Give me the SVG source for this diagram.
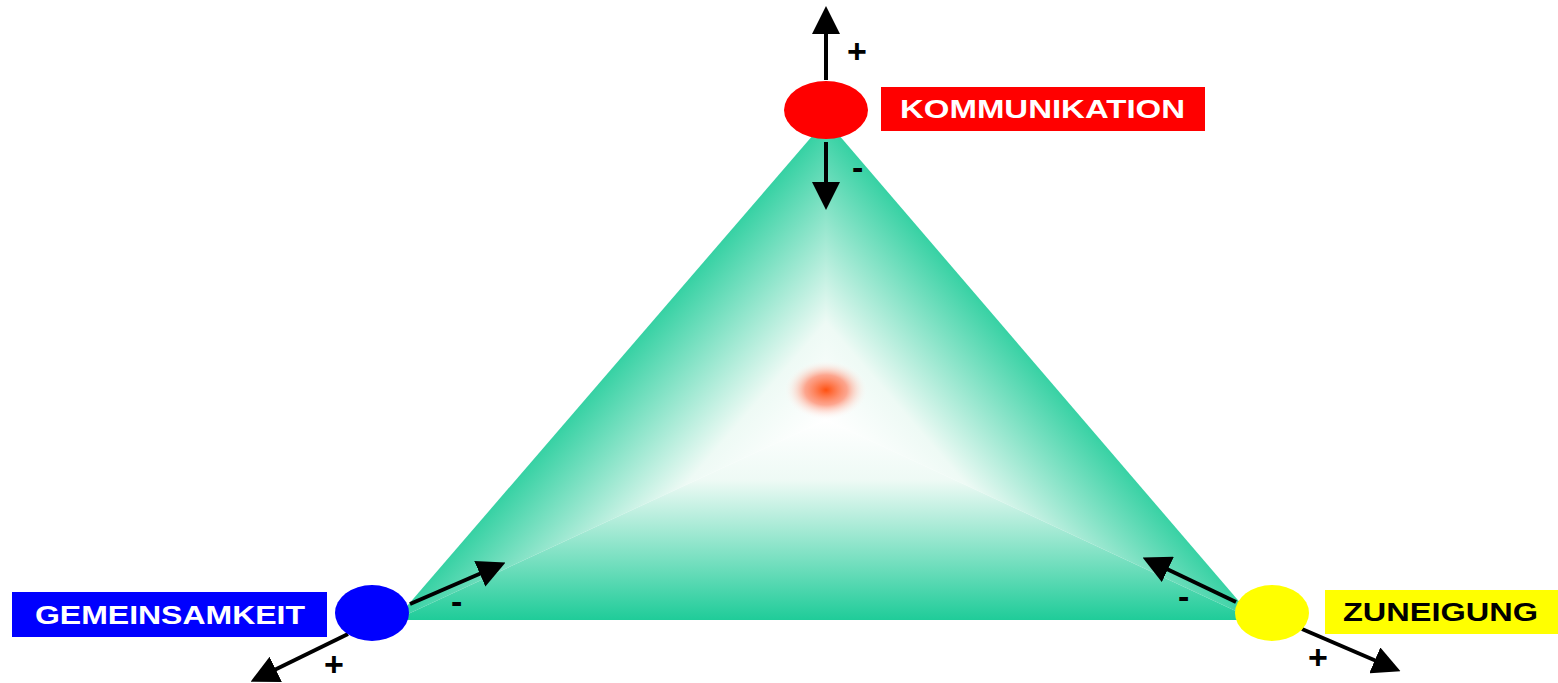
<svg xmlns="http://www.w3.org/2000/svg" width="1558" height="683" viewBox="0 0 1558 683">
<style>
.lbl{font-family:"Liberation Sans",Arial,sans-serif;font-weight:bold;font-size:25px}
.sign{font-family:"Liberation Sans",Arial,sans-serif;font-weight:bold;font-size:34px;fill:#000}
.conn{stroke:#000;stroke-width:4;fill:none;marker-end:url(#ah)}
</style>
<defs>
<marker id="ah" markerWidth="28" markerHeight="28" refX="22" refY="14" orient="auto" markerUnits="userSpaceOnUse" viewBox="0 0 28 28">
<path d="M0,0 L28,14 L0,28 z" fill="#000"/>
</marker>
<linearGradient id="gL" gradientUnits="userSpaceOnUse" x1="826" y1="420" x2="665" y2="281">
<stop offset="0" stop-color="#fff"/><stop offset="0.3" stop-color="#eefaf5"/><stop offset="1" stop-color="#1fcc99"/>
</linearGradient>
<linearGradient id="gR" gradientUnits="userSpaceOnUse" x1="826" y1="420" x2="987" y2="281">
<stop offset="0" stop-color="#fff"/><stop offset="0.3" stop-color="#eefaf5"/><stop offset="1" stop-color="#1fcc99"/>
</linearGradient>
<linearGradient id="gB" gradientUnits="userSpaceOnUse" x1="826" y1="420" x2="826" y2="620">
<stop offset="0" stop-color="#fff"/><stop offset="0.3" stop-color="#eefaf5"/><stop offset="1" stop-color="#1fcc99"/>
</linearGradient>
<radialGradient id="dot">
<stop offset="0" stop-color="#ff5010"/><stop offset="0.5" stop-color="#ff8060" stop-opacity="0.7"/><stop offset="1" stop-color="#fff" stop-opacity="0"/>
</radialGradient>
</defs>
<rect width="1558" height="683" fill="#fff"/>
<g id="triangle">
<polygon points="826,420 826,120 395,620" fill="url(#gL)"/>
<polygon points="826,420 826,120 1255,620" fill="url(#gR)"/>
<polygon points="826,420 395,620 1255,620" fill="url(#gB)"/>
<ellipse cx="826" cy="390" rx="42" ry="30" fill="url(#dot)"/>
</g>
<g id="connectors">
<line class="conn" x1="826" y1="80" x2="826" y2="12"/>
<line class="conn" x1="826" y1="142" x2="826" y2="204"/>
<line class="conn" x1="410" y1="604" x2="500" y2="565"/>
<line class="conn" x1="348" y1="634" x2="256" y2="679"/>
<line class="conn" x1="1236" y1="602" x2="1148" y2="560"/>
<line class="conn" x1="1302" y1="629" x2="1395" y2="669"/>
<text class="sign" x="847" y="63">+</text>
<text class="sign" x="852" y="179">-</text>
<text class="sign" x="451" y="613">-</text>
<text class="sign" x="324" y="676">+</text>
<text class="sign" x="1178" y="608">-</text>
<text class="sign" x="1308" y="669">+</text>
</g>
<g id="kommunikation">
<ellipse cx="826" cy="110" rx="42" ry="29" fill="#ff0000"/>
<rect x="881" y="87" width="324" height="44" fill="#ff0000"/>
<text class="lbl" x="900" y="118" fill="#fff" textLength="285" lengthAdjust="spacingAndGlyphs">KOMMUNIKATION</text>
</g>
<g id="gemeinsamkeit">
<ellipse cx="372" cy="613" rx="37" ry="28" fill="#0000ff"/>
<rect x="12" y="592" width="315" height="45" fill="#0000ff"/>
<text class="lbl" x="35" y="624" fill="#fff" textLength="270" lengthAdjust="spacingAndGlyphs">GEMEINSAMKEIT</text>
</g>
<g id="zuneigung">
<ellipse cx="1272" cy="613" rx="37" ry="28" fill="#ffff00"/>
<rect x="1325" y="590" width="233" height="44" fill="#ffff00"/>
<text class="lbl" x="1343" y="621" fill="#000" textLength="195" lengthAdjust="spacingAndGlyphs">ZUNEIGUNG</text>
</g>
</svg>
